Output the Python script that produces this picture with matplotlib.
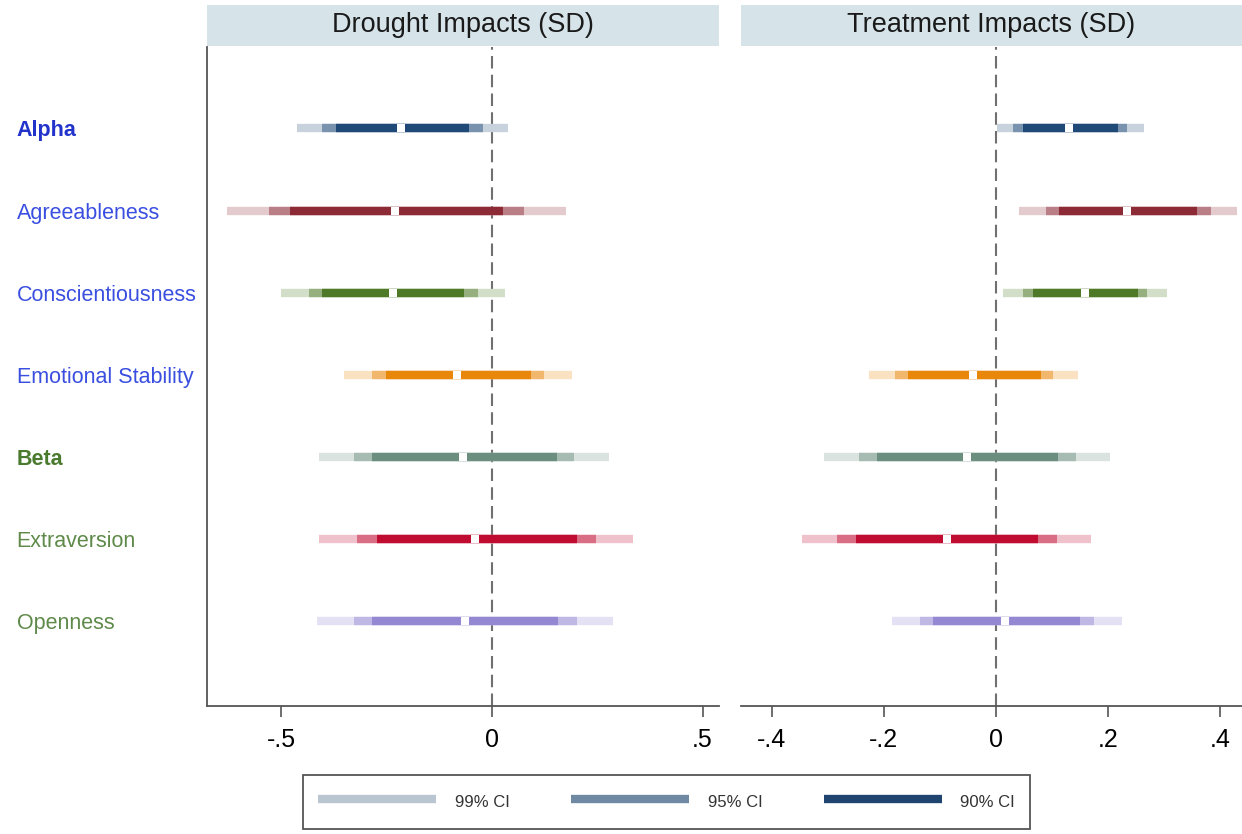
import matplotlib
matplotlib.use("Agg")
import matplotlib.pyplot as plt
from matplotlib.colors import to_rgb
from matplotlib.lines import Line2D
from matplotlib.patches import Rectangle
import numpy as np

# ── Data ────────────────────────────────────────────────────────────────────
TRAITS = ["Alpha", "Agreeableness", "Conscientiousness", "Emotional Stability",
          "Beta", "Extraversion", "Openness"]

# Drought impacts (SD)
drought_est = [-0.215, -0.229, -0.234, -0.083, -0.069, -0.040, -0.064]
drought_lo99 = [-0.463, -0.629, -0.501, -0.350, -0.411, -0.411, -0.416]
drought_hi99 = [0.038, 0.177, 0.031, 0.191, 0.279, 0.336, 0.288]
drought_lo95 = [-0.402, -0.530, -0.435, -0.284, -0.326, -0.319, -0.326]
drought_hi95 = [-0.021, 0.076, -0.033, 0.123, 0.196, 0.246, 0.203]
drought_lo90 = [-0.371, -0.480, -0.402, -0.251, -0.284, -0.272, -0.284]
drought_hi90 = [-0.054, 0.026, -0.066, 0.092, 0.154, 0.201, 0.158]

# Treatment impacts (SD)
treat_est = [0.130, 0.234, 0.159, -0.041, -0.052, -0.088, 0.016]
treat_lo99 = [0.002, 0.041, 0.013, -0.227, -0.307, -0.346, -0.186]
treat_hi99 = [0.264, 0.430, 0.305, 0.146, 0.204, 0.170, 0.225]
treat_lo95 = [0.030, 0.089, 0.048, -0.180, -0.245, -0.284, -0.136]
treat_hi95 = [0.234, 0.384, 0.270, 0.102, 0.143, 0.109, 0.175]
treat_lo90 = [0.048, 0.113, 0.066, -0.157, -0.213, -0.250, -0.112]
treat_hi90 = [0.218, 0.359, 0.254, 0.080, 0.111, 0.075, 0.150]

# ── Style ───────────────────────────────────────────────────────────────────
BASE = ["#1f4a78", "#8c2a36", "#4e7a28", "#e8870a", "#6b8e7f", "#c00c30", "#9488d2"]
LABEL_COLORS = ["#2233cc", "#3a4fe0", "#3a4fe0", "#3a4fe0", "#4a7a2e", "#5f8a4a", "#5f8a4a"]
LABEL_BOLD = [True, False, False, False, True, False, False]
AXIS_GREY = "#555555"
HEADER_BG = "#d6e4ea"

plt.rcParams.update({
    "font.family": ["Liberation Sans", "DejaVu Sans"],
})


def tint(color, frac):
    """Blend color with white; frac = share of the original colour."""
    c = np.array(to_rgb(color))
    return tuple(frac * c + (1 - frac) * 1.0)


def draw_panel(ax, est, lo99, hi99, lo95, hi95, lo90, hi90, title, xlim, ticks, ticklabels):
    y = np.arange(len(TRAITS))
    lw = 6
    for i in range(len(TRAITS)):
        ax.hlines(y[i], lo99[i], hi99[i], color=tint(BASE[i], 0.25), lw=lw, capstyle="butt", zorder=2)
        ax.hlines(y[i], lo95[i], hi95[i], color=tint(BASE[i], 0.6), lw=lw, capstyle="butt", zorder=3)
        ax.hlines(y[i], lo90[i], hi90[i], color=BASE[i], lw=lw, capstyle="butt", zorder=4)
    ax.plot(est, y, "s", color="white", ms=5.5, mew=0, zorder=5)
    ax.axvline(0, color="#707070", lw=1.5, dashes=(6, 3), zorder=1)

    ax.set_xlim(*xlim)
    ax.set_ylim(7.03, -0.99)
    ax.set_xticks(ticks)
    ax.set_xticklabels(ticklabels)
    ax.tick_params(axis="x", direction="out", length=8, width=1.2, color=AXIS_GREY,
                   labelsize=18, pad=8)
    for s in ["top", "right"]:
        ax.spines[s].set_visible(False)
    ax.spines["bottom"].set_color(AXIS_GREY)
    ax.spines["bottom"].set_linewidth(1.3)
    ax.spines["left"].set_color(AXIS_GREY)
    ax.spines["left"].set_linewidth(1.3)

    ax.add_patch(Rectangle((0, 1.002), 1, 0.062, transform=ax.transAxes,
                           facecolor=HEADER_BG, edgecolor="none", clip_on=False))
    ax.text(0.5, 1.034, title, transform=ax.transAxes, ha="center", va="center",
            fontsize=19.5, color="#1a1a1a")


fig = plt.figure(figsize=(12.42, 8.34), dpi=100)
ax_l = fig.add_axes([207 / 1242, 1 - 706 / 834, 512 / 1242, 659 / 834])
ax_r = fig.add_axes([741 / 1242, 1 - 706 / 834, 501 / 1242, 659 / 834])

draw_panel(ax_l, drought_est, drought_lo99, drought_hi99, drought_lo95, drought_hi95,
           drought_lo90, drought_hi90, "Drought Impacts (SD)",
           (-0.676, 0.539), [-0.5, 0, 0.5], ["-.5", "0", ".5"])
draw_panel(ax_r, treat_est, treat_lo99, treat_hi99, treat_lo95, treat_hi95,
           treat_lo90, treat_hi90, "Treatment Impacts (SD)",
           (-0.455, 0.439), [-0.4, -0.2, 0, 0.2, 0.4], ["-.4", "-.2", "0", ".2", ".4"])

# left panel: trait names on the y axis
ax_l.set_yticks(np.arange(len(TRAITS)))
ax_l.set_yticklabels(TRAITS)
ax_l.tick_params(axis="y", length=0, pad=137)
for lab, c, b in zip(ax_l.get_yticklabels(), LABEL_COLORS, LABEL_BOLD):
    lab.set_ha("left")
    lab.set_color(c)
    lab.set_fontsize(15.5)
    if b:
        lab.set_fontweight("bold")

# right panel: no y axis
ax_r.set_yticks([])
ax_r.spines["left"].set_visible(False)

# legend
leg_colors = ["#b9c6d2", "#7089a2", "#1f4470"]
leg_labels = ["99% CI", "95% CI", "90% CI"]
handles = [Line2D([], [], color=c, lw=6, solid_capstyle="butt") for c in leg_colors]
leg = fig.legend(handles, leg_labels, ncol=3, loc="center",
                 bbox_to_anchor=(303 / 1242, 2 / 834, 727 / 1242, 60 / 834),
                 mode="expand", fontsize=12, handlelength=7.1, handletextpad=1.1,
                 borderpad=0.9, handleheight=1.8, fancybox=False, framealpha=1,
                 edgecolor=AXIS_GREY, borderaxespad=0)
leg.get_frame().set_linewidth(1.3)
for t in leg.get_texts():
    t.set_color("#333333")

fig.savefig("out.png", dpi=100)
